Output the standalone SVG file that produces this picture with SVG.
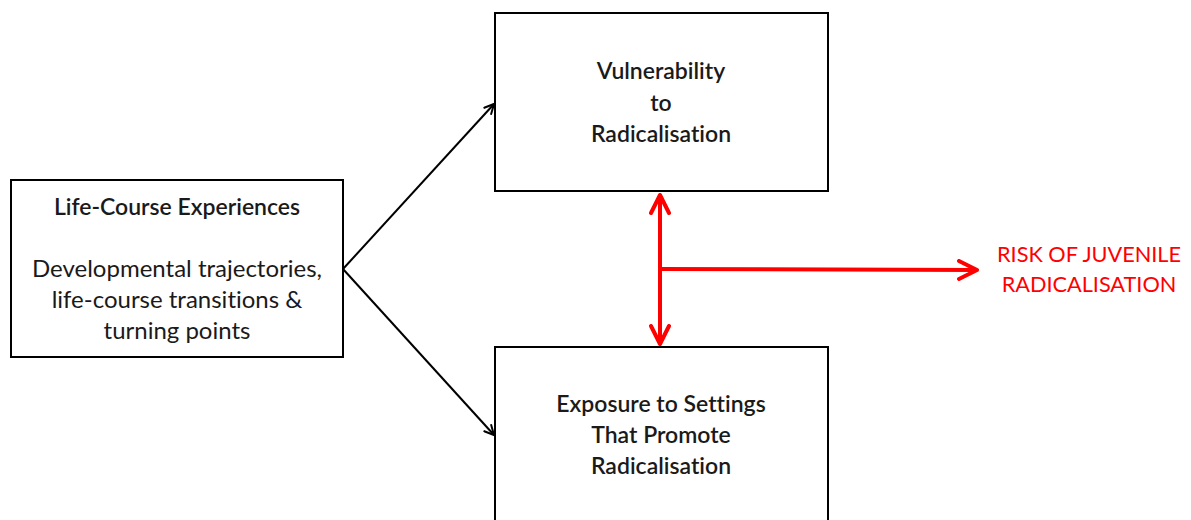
<svg xmlns="http://www.w3.org/2000/svg" width="1191" height="520" viewBox="0 0 1191 520">
<defs>
<style>
.box{fill:#fff;stroke:#000;stroke-width:2}
.t{font-family:Lato,"Open Sans","Liberation Sans",sans-serif;font-size:24px;fill:#1a1a1a;text-anchor:middle;font-variant-ligatures:none}
.b{font-weight:600;font-size:23px}
.red{font-family:Lato,"Open Sans","Liberation Sans",sans-serif;font-size:21.7px;fill:#ff0000;text-anchor:middle;font-variant-ligatures:none}
.blk{stroke:#000;stroke-width:2;fill:none}
.rd{stroke:#ff0000;stroke-width:4;fill:none}
</style>
<marker id="ab" viewBox="0 0 12 12" refX="11" refY="6" markerWidth="12" markerHeight="12" markerUnits="userSpaceOnUse" orient="auto"><path d="M1,1 L11,6 L1,11" fill="none" stroke="#000" stroke-width="2"/></marker>
<marker id="ar" viewBox="0 0 22 22" refX="20" refY="11" markerWidth="22" markerHeight="22" markerUnits="userSpaceOnUse" orient="auto-start-reverse"><path d="M2,2 L20,11 L2,20" fill="none" stroke="#ff0000" stroke-width="4" stroke-linecap="round" stroke-linejoin="round"/></marker>
</defs>
<g id="node-life">
<rect class="box" x="11" y="180" width="332" height="177"/>
<text class="t b" x="177" y="215">Life-Course Experiences</text>
<text class="t" x="177" y="277">Developmental trajectories,</text>
<text class="t" x="177" y="308">life-course transitions &amp;</text>
<text class="t" x="177" y="339">turning points</text>
</g>
<g id="node-vuln">
<rect class="box" x="495" y="13" width="333" height="178"/>
<text class="t b" x="661" y="79">Vulnerability</text>
<text class="t b" x="661" y="111">to</text>
<text class="t b" x="661" y="142">Radicalisation</text>
</g>
<g id="node-exposure">
<rect class="box" x="495" y="347" width="333" height="190"/>
<text class="t b" x="661" y="412">Exposure to Settings</text>
<text class="t b" x="661" y="443">That Promote</text>
<text class="t b" x="661" y="474">Radicalisation</text>
</g>
<g id="node-risk">
<text class="red" x="1089" y="262">RISK OF JUVENILE</text>
<text class="red" x="1089" y="292">RADICALISATION</text>
</g>
<g id="connectors">
<line class="blk" x1="343" y1="269" x2="494" y2="104" marker-end="url(#ab)"/>
<line class="blk" x1="343" y1="269" x2="494" y2="435" marker-end="url(#ab)"/>
<line class="rd" x1="660" y1="195" x2="660" y2="344" marker-start="url(#ar)" marker-end="url(#ar)"/>
<line class="rd" x1="660" y1="269" x2="977" y2="270" marker-end="url(#ar)"/>
</g>
</svg>
